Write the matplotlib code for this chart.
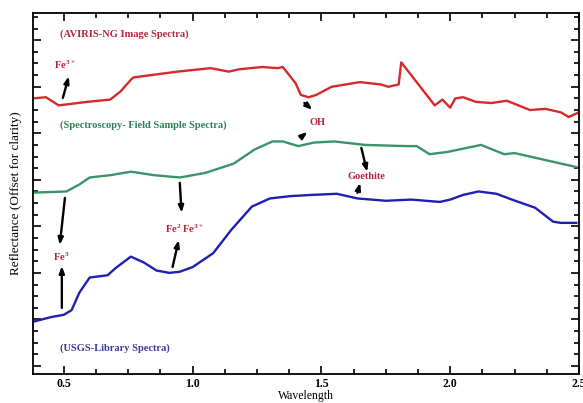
import numpy as np
import matplotlib
matplotlib.use('Agg')
import matplotlib.pyplot as plt
from matplotlib.ticker import MultipleLocator, NullFormatter, FormatStrFormatter

plt.rc('font', **{'family': 'serif', 'serif': ['Liberation Serif'], 'weight': 'bold'})
plt.rc('mathtext', default='regular')

# AVIRIS-NG image spectrum (offset)
wl_aviris = [0.38, 0.43, 0.48, 0.59, 0.68, 0.72, 0.76, 0.77, 0.94, 1.07, 1.14, 1.18, 1.27,
             1.33, 1.35, 1.40, 1.42, 1.45, 1.48, 1.54, 1.65, 1.73, 1.76, 1.80, 1.81,
             1.94, 1.97, 2.00, 2.02, 2.05, 2.10, 2.16, 2.22, 2.31, 2.37, 2.43, 2.46, 2.50]
refl_aviris = [2.30, 2.31, 2.24, 2.27, 2.29, 2.36, 2.46, 2.48, 2.53, 2.56, 2.53, 2.55, 2.57,
               2.56, 2.57, 2.43, 2.33, 2.31, 2.33, 2.40, 2.44, 2.42, 2.40, 2.42, 2.61,
               2.24, 2.29, 2.22, 2.30, 2.31, 2.27, 2.26, 2.28, 2.20, 2.21, 2.18, 2.14, 2.18]

# field sample spectrum (offset)
wl_field = [0.38, 0.51, 0.56, 0.60, 0.68, 0.76, 0.85, 0.95, 1.05, 1.16, 1.24, 1.31, 1.35,
            1.41, 1.47, 1.55, 1.67, 1.83, 1.87, 1.92, 1.99, 2.12, 2.21, 2.25, 2.37, 2.49]
refl_field = [1.49, 1.50, 1.56, 1.62, 1.64, 1.67, 1.64, 1.62, 1.66, 1.74, 1.86, 1.93, 1.93,
              1.89, 1.92, 1.93, 1.90, 1.89, 1.89, 1.82, 1.84, 1.90, 1.82, 1.83, 1.77, 1.71]

# USGS library spectrum
wl_usgs = [0.38, 0.45, 0.50, 0.53, 0.56, 0.60, 0.67, 0.70, 0.76, 0.81, 0.86, 0.91, 0.95,
           1.00, 1.08, 1.15, 1.23, 1.30, 1.38, 1.46, 1.56, 1.64, 1.75, 1.85, 1.96,
           2.00, 2.05, 2.11, 2.18, 2.24, 2.33, 2.40, 2.43, 2.49]
refl_usgs = [0.38, 0.42, 0.44, 0.48, 0.63, 0.76, 0.78, 0.84, 0.94, 0.89, 0.82, 0.80, 0.81,
             0.85, 0.97, 1.17, 1.37, 1.44, 1.46, 1.47, 1.48, 1.44, 1.42, 1.43, 1.41,
             1.43, 1.47, 1.50, 1.48, 1.43, 1.36, 1.24, 1.23, 1.23]

txt_red = '#b3263f'
series = [
    (wl_aviris, refl_aviris, '#d42a2a', '(AVIRIS-NG Image Spectra)', txt_red, (0.484, 2.855)),
    (wl_field, refl_field, '#3a9468', '(Spectroscopy- Field Sample Spectra)', '#2f7f55', (0.484, 2.072)),
    (wl_usgs, refl_usgs, '#1f1fb0', '(USGS-Library Spectra)', '#3a3a9c', (0.484, 0.155)),
]

# feature labels: text, label position, arrows (tail, head)
features = [
    ('Fe$^{3+}$', (0.504, 2.588), [((0.496, 2.304), (0.519, 2.49))]),
    ('OH', (1.484, 2.089), [((1.434, 2.261), (1.465, 2.201)), ((1.422, 1.969), (1.446, 2.012))]),
    ('Goethite', (1.674, 1.625), [((1.655, 1.874), (1.678, 1.668)), ((1.640, 1.488), (1.651, 1.574))]),
    ('Fe$^{2}$ Fe$^{3+}$', (0.969, 1.178), [((0.950, 1.574), (0.957, 1.316)), ((0.922, 0.851), (0.946, 1.083))]),
    ('Fe$^{3}$', (0.488, 0.937), [((0.504, 1.445), (0.484, 1.040)), ((0.492, 0.499), (0.492, 0.860))]),
]

fig = plt.figure(figsize=(5.83, 4.03), dpi=100)
ax = fig.add_axes([0.0566, 0.072, 0.9364, 0.896])

for xs, ys, c, lab, tc, pos in series:
    ax.plot(xs, ys, color=c, lw=1.7)
    ax.text(pos[0], pos[1], lab, color=tc, fontsize=7.5, va='center', ha='left')

for lab, pos, arrows in features:
    ax.text(pos[0], pos[1], lab, color=txt_red, fontsize=7.5, ha='center', va='center')
    for tail, head in arrows:
        ax.annotate('', xy=head, xytext=tail,
                    arrowprops=dict(arrowstyle='-|>,head_length=0.4,head_width=0.15',
                                    color='black', lw=1.7, shrinkA=0, shrinkB=0))

ax.set_xlim(0.38, 2.5)
ax.set_ylim(-0.069, 3.035)
ax.xaxis.set_major_locator(MultipleLocator(0.5))
ax.xaxis.set_minor_locator(MultipleLocator(0.125))
ax.yaxis.set_major_locator(MultipleLocator(0.4))
ax.yaxis.set_minor_locator(MultipleLocator(0.1))
ax.yaxis.set_major_formatter(NullFormatter())
ax.xaxis.set_major_formatter(FormatStrFormatter('%.1f'))
ax.tick_params(which='both', direction='in', top=True, right=True, width=1.2, labelsize=8.5, pad=3)
ax.tick_params(which='major', length=6)
ax.tick_params(which='minor', length=3.5)
for s in ax.spines.values():
    s.set_linewidth(1.3)

ax.set_xlabel('Wavelength', fontsize=8.5, labelpad=0)
ax.set_ylabel('Reflectance (Offset for clarity)', fontsize=9.5, labelpad=5)

fig.savefig('out.png', dpi=100)
